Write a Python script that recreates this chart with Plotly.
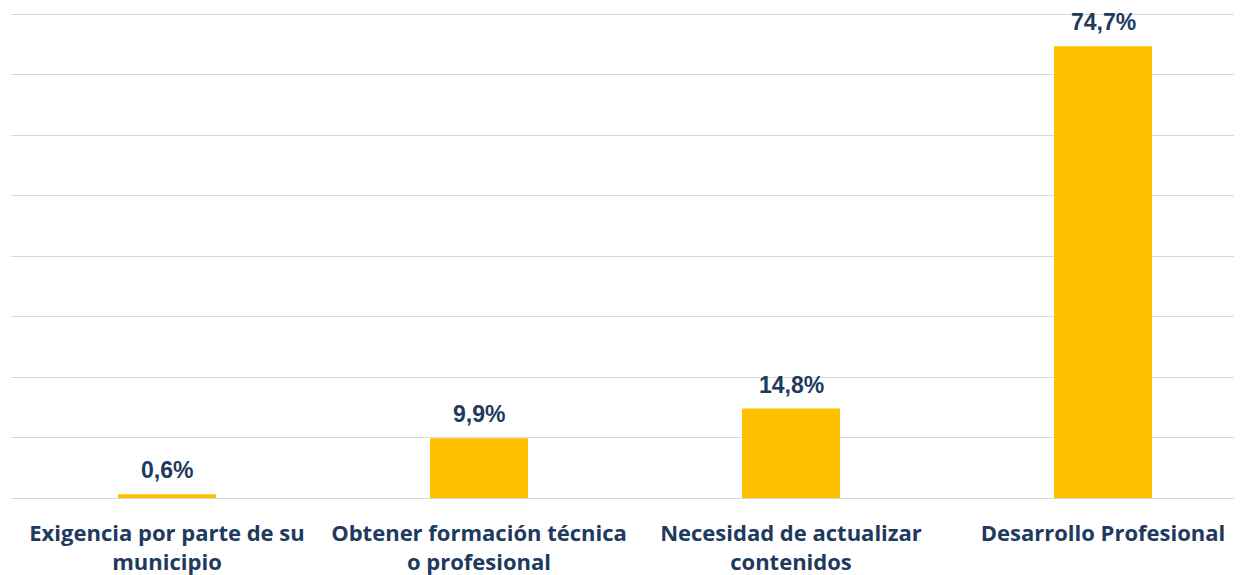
import plotly.graph_objects as go

categories = ["Exigencia por parte de su<br>municipio",
              "Obtener formación técnica<br>o profesional",
              "Necesidad de actualizar<br>contenidos",
              "Desarrollo Profesional"]
values = [0.6, 9.9, 14.8, 74.7]
labels = ["0,6%", "9,9%", "14,8%", "74,7%"]

navy = "#203A5E"
xs = list(range(len(categories)))
fig = go.Figure(go.Bar(
    x=xs, y=values,
    marker=dict(color="#FFC000", line=dict(width=0)),
    width=0.314,
))
for xi, v, t in zip(xs, values, labels):
    fig.add_annotation(x=xi, y=v, text=t, showarrow=False, yanchor="bottom",
                       yshift=9,
                       font=dict(family="Liberation Sans, Arial", size=23, color=navy,
                                 weight="bold"))
# page has an 8px body margin: figure sized/positioned to compensate
fig.update_layout(
    width=1234, height=567,
    margin=dict(l=3, r=0, t=5, b=77),
    plot_bgcolor="white", paper_bgcolor="white",
    showlegend=False,
    xaxis=dict(range=[-0.5, -0.5 + 1231 / 312], tickvals=xs,
               ticktext=categories, showgrid=False, zeroline=False, showline=False,
               ticks="outside", ticklen=16, tickcolor="rgba(0,0,0,0)",
               tickfont=dict(family="Open Sans", size=22, color=navy, weight="bold")),
    yaxis=dict(range=[0, 80.2], tickvals=[10, 20, 30, 40, 50, 60, 70, 80],
               showticklabels=False, gridcolor="#D9D9D9",
               gridwidth=1.3, zeroline=True, zerolinecolor="#D9D9D9", zerolinewidth=1.3),
)
fig.write_html("out.html")
